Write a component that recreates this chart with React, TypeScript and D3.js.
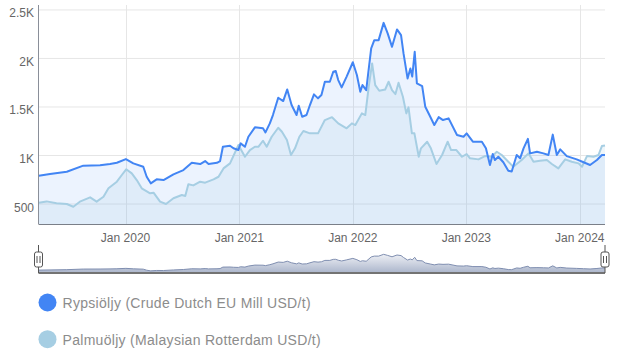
import * as d3 from 'd3'

// Rypsiöljy (Crude Dutch EU Mill USD/t)
const rapeseed: [string, number][] = [
  ['2019-03-28', 791], ['2019-05-03', 809], ['2019-06-26', 833], ['2019-08-18', 895],
  ['2019-10-11', 900], ['2019-11-12', 912], ['2019-12-04', 925], ['2020-01-02', 963],
  ['2020-01-26', 919], ['2020-02-27', 884], ['2020-03-09', 781], ['2020-03-22', 713],
  ['2020-04-10', 754], ['2020-05-02', 747], ['2020-06-03', 806], ['2020-07-05', 850],
  ['2020-08-01', 925], ['2020-08-28', 912], ['2020-09-13', 943], ['2020-09-24', 912],
  ['2020-10-21', 925], ['2020-10-31', 943], ['2020-11-09', 1090], ['2020-12-02', 1100],
  ['2020-12-13', 1074], ['2020-12-29', 1057], ['2021-01-05', 1125], ['2021-01-19', 1090],
  ['2021-01-30', 1193], ['2021-02-20', 1290], ['2021-03-18', 1280], ['2021-03-26', 1238],
  ['2021-04-09', 1331], ['2021-04-19', 1417], ['2021-05-06', 1595], ['2021-05-22', 1561],
  ['2021-06-04', 1681], ['2021-06-18', 1520], ['2021-07-04', 1417], ['2021-07-11', 1512],
  ['2021-07-22', 1399], ['2021-08-05', 1417], ['2021-08-16', 1520], ['2021-08-29', 1630],
  ['2021-09-11', 1589], ['2021-09-22', 1623], ['2021-10-03', 1760], ['2021-10-19', 1760],
  ['2021-10-30', 1863], ['2021-11-07', 1870], ['2021-11-15', 1777], ['2021-11-26', 1702],
  ['2021-12-12', 1813], ['2022-01-01', 1961], ['2022-01-14', 1829], ['2022-01-25', 1657],
  ['2022-02-01', 1726], ['2022-02-13', 1674], ['2022-03-01', 2104], ['2022-03-11', 2189],
  ['2022-03-25', 2189], ['2022-04-10', 2367], ['2022-04-23', 2258], ['2022-05-07', 2120],
  ['2022-05-23', 2299], ['2022-06-05', 2241], ['2022-06-13', 2052], ['2022-06-26', 1794],
  ['2022-07-05', 1897], ['2022-07-11', 1813], ['2022-07-19', 2069], ['2022-07-26', 1743],
  ['2022-08-12', 1715], ['2022-08-22', 1502], ['2022-09-07', 1399], ['2022-09-20', 1314],
  ['2022-10-04', 1395], ['2022-10-18', 1365], ['2022-11-05', 1383], ['2022-12-02', 1211],
  ['2022-12-23', 1193], ['2023-01-02', 1228], ['2023-01-22', 1142], ['2023-02-20', 1142],
  ['2023-03-05', 1074], ['2023-03-18', 902], ['2023-03-27', 1015], ['2023-04-03', 953],
  ['2023-04-14', 987], ['2023-04-30', 930], ['2023-05-16', 843], ['2023-05-27', 835],
  ['2023-06-12', 1005], ['2023-06-23', 971], ['2023-07-04', 1074], ['2023-07-18', 1172],
  ['2023-07-25', 1022], ['2023-08-16', 1039], ['2023-09-06', 1022], ['2023-09-22', 1005],
  ['2023-10-06', 1215], ['2023-10-19', 1005], ['2023-10-30', 1063], ['2023-11-20', 994],
  ['2023-12-22', 960], ['2024-01-13', 930], ['2024-02-03', 902], ['2024-02-25', 953],
  ['2024-03-12', 1005], ['2024-03-22', 1005],
]

// Palmuöljy (Malaysian Rotterdam USD/t)
const palm: [string, number][] = [
  ['2019-03-28', 513], ['2019-04-22', 527], ['2019-05-24', 507], ['2019-06-26', 500],
  ['2019-07-17', 472], ['2019-08-07', 524], ['2019-09-09', 569], ['2019-09-30', 524],
  ['2019-10-22', 575], ['2019-11-07', 662], ['2019-12-04', 730], ['2019-12-20', 799],
  ['2020-01-03', 858], ['2020-01-21', 816], ['2020-02-06', 747], ['2020-02-22', 662],
  ['2020-03-20', 610], ['2020-03-31', 617], ['2020-04-21', 524], ['2020-05-10', 500],
  ['2020-06-03', 559], ['2020-06-30', 593], ['2020-07-11', 583], ['2020-07-21', 703],
  ['2020-08-06', 692], ['2020-08-28', 730], ['2020-09-13', 720], ['2020-10-10', 754],
  ['2020-10-26', 781], ['2020-11-11', 867], ['2020-12-02', 919], ['2020-12-29', 1108],
  ['2021-01-19', 987], ['2021-02-04', 1056], ['2021-02-20', 1090], ['2021-03-03', 1090],
  ['2021-03-18', 1152], ['2021-03-30', 1090], ['2021-04-15', 1193], ['2021-05-06', 1286],
  ['2021-05-18', 1245], ['2021-06-03', 1159], ['2021-06-16', 1005], ['2021-06-29', 1074],
  ['2021-07-13', 1193], ['2021-07-26', 1252], ['2021-08-16', 1228], ['2021-09-11', 1228],
  ['2021-10-03', 1365], ['2021-10-26', 1395], ['2021-11-15', 1331], ['2021-12-12', 1280],
  ['2021-12-29', 1331], ['2022-01-09', 1314], ['2022-01-30', 1434], ['2022-02-10', 1417],
  ['2022-02-21', 1708], ['2022-03-04', 1949], ['2022-03-14', 1726], ['2022-03-27', 1667],
  ['2022-04-15', 1680], ['2022-04-26', 1760], ['2022-05-07', 1674], ['2022-05-18', 1633],
  ['2022-05-28', 1750], ['2022-06-11', 1605], ['2022-06-22', 1434], ['2022-06-29', 1496],
  ['2022-07-10', 1228], ['2022-07-18', 1228], ['2022-08-01', 987], ['2022-08-08', 1074],
  ['2022-08-28', 1142], ['2022-09-09', 1074], ['2022-09-27', 912], ['2022-10-15', 1005],
  ['2022-11-02', 1142], ['2022-11-13', 1056], ['2022-11-30', 1056], ['2022-12-18', 987],
  ['2023-01-02', 1015], ['2023-01-13', 971], ['2023-02-09', 960], ['2023-03-02', 994],
  ['2023-03-24', 987], ['2023-04-09', 1039], ['2023-04-25', 1005], ['2023-05-16', 936],
  ['2023-06-01', 884], ['2023-06-28', 953], ['2023-07-20', 1022], ['2023-08-05', 936],
  ['2023-08-26', 946], ['2023-09-17', 953], ['2023-10-03', 912], ['2023-10-24', 867],
  ['2023-11-15', 960], ['2023-12-06', 936], ['2023-12-28', 919], ['2024-01-08', 884],
  ['2024-01-24', 994], ['2024-02-14', 987], ['2024-03-01', 1005], ['2024-03-12', 1097],
  ['2024-03-22', 1104],
]

const seriesNames = ['Rypsiöljy (Crude Dutch EU Mill USD/t)', 'Palmuöljy (Malaysian Rotterdam USD/t)']
const seriesColors = ['#4285f4', '#a6cee3']
const yTicks = [500, 1000, 1500, 2000, 2500]
const dateRange = ['2019-03-27', '2024-03-22']

const parse = d3.utcParse('%Y-%m-%d')
type Pt = { date: Date; value: number }
const toPts = (rows: [string, number][]): Pt[] => rows.map(([d, v]) => ({ date: parse(d)!, value: v }))

const W = 624
const H = 353
const plot = { left: 38.5, right: 605, top: 5, bottom: 224 }
const nav = { top: 254, bottom: 272 }
const font = '"Liberation Sans", Arial, Helvetica, sans-serif'

export default function App() {
  const rape = toPts(rapeseed)
  const palmPts = toPts(palm)

  const x = d3
    .scaleUtc()
    .domain([parse(dateRange[0])!, parse(dateRange[1])!])
    .range([plot.left, plot.right])
  const y = d3.scaleLinear().domain([294, 2551]).range([plot.bottom, plot.top])
  const yNav = d3.scaleLinear().domain([600, 2400]).range([nav.bottom, nav.top])

  const line = d3.line<Pt>().x((d) => x(d.date)).y((d) => y(d.value))
  const area = d3
    .area<Pt>()
    .x((d) => x(d.date))
    .y0(plot.bottom)
    .y1((d) => y(d.value))
  const navLine = d3.line<Pt>().x((d) => x(d.date)).y((d) => yNav(d.value))
  const navArea = d3
    .area<Pt>()
    .x((d) => x(d.date))
    .y0(nav.bottom)
    .y1((d) => yNav(d.value))

  const years = d3.utcYear.range(x.domain()[0], x.domain()[1])
  const fmtYear = d3.utcFormat('Jan %Y')
  const fmtY = (v: number) => (v >= 1000 ? `${v / 1000}K` : `${v}`)

  const handle = (hx: number) => (
    <g key={hx}>
      <line x1={hx} x2={hx} y1={245} y2={273} stroke="#555" strokeWidth={1} />
      <rect x={hx - 4} y={252} width={8} height={15} rx={2} fill="#fff" stroke="#555" strokeWidth={1} />
      <line x1={hx - 1.5} x2={hx - 1.5} y1={256} y2={263} stroke="#555" strokeWidth={1} />
      <line x1={hx + 1.5} x2={hx + 1.5} y1={256} y2={263} stroke="#555" strokeWidth={1} />
    </g>
  )

  return (
    <svg
      width={W}
      height={H}
      style={{ position: 'absolute', left: 0, top: 0, fontFamily: font }}
    >
      <defs>
        <linearGradient id="navFill" x1="0" y1="0" x2="0" y2="1">
          <stop offset="0%" stopColor="#eef0f5" />
          <stop offset="100%" stopColor="#aeb8cd" />
        </linearGradient>
      </defs>
      <rect width={W} height={H} fill="#fff" />

      {/* grid */}
      {yTicks.map((t) => (
        <line key={t} x1={plot.left} x2={plot.right} y1={y(t)} y2={y(t)} stroke="#e6e6e6" strokeWidth={1} />
      ))}
      {years.map((d) => (
        <line
          key={+d}
          x1={Math.round(x(d)) + 0.5}
          x2={Math.round(x(d)) + 0.5}
          y1={plot.top}
          y2={plot.bottom}
          stroke="#e6e6e6"
          strokeWidth={1}
        />
      ))}

      {/* areas */}
      <path d={area(rape)!} fill="#4285f4" fillOpacity={0.1} />
      <path d={area(palmPts)!} fill="#a6cee3" fillOpacity={0.18} />

      {/* lines */}
      <path d={line(palmPts)!} fill="none" stroke={seriesColors[1]} strokeWidth={2} strokeLinejoin="round" />
      <path d={line(rape)!} fill="none" stroke={seriesColors[0]} strokeWidth={2} strokeLinejoin="round" />

      {/* axes */}
      <line x1={plot.left} x2={plot.left} y1={plot.top} y2={plot.bottom} stroke="#8a8f99" strokeWidth={1} />
      <line x1={plot.left} x2={plot.right} y1={plot.bottom + 0.5} y2={plot.bottom + 0.5} stroke="#7a7f88" strokeWidth={1} />

      {yTicks.map((t) => (
        <text key={t} x={34} y={y(t) + 7.5} textAnchor="end" fontSize={12} fill="#666">
          {fmtY(t)}
        </text>
      ))}
      {years.map((d) => (
        <text key={+d} x={x(d)} y={242} textAnchor="middle" fontSize={12} fill="#666">
          {fmtYear(d)}
        </text>
      ))}

      {/* navigator */}
      <path d={navArea(rape)!} fill="url(#navFill)" />
      <path d={navLine(rape)!} fill="none" stroke="#7f8eb0" strokeWidth={1} />
      <line x1={plot.left} x2={plot.right} y1={273} y2={273} stroke="#444" strokeWidth={1.5} />
      {handle(plot.left)}
      {handle(plot.right)}

      {/* legend */}
      {seriesNames.map((name, i) => (
        <g key={name} transform={`translate(0, ${302.5 + i * 36.7})`}>
          <circle cx={47.5} cy={0} r={9} fill={seriesColors[i]} />
          <text x={62.5} y={5.5} fontSize={14} fill="#8c8c8c" letterSpacing={0.3}>
            {name}
          </text>
        </g>
      ))}
    </svg>
  )
}
